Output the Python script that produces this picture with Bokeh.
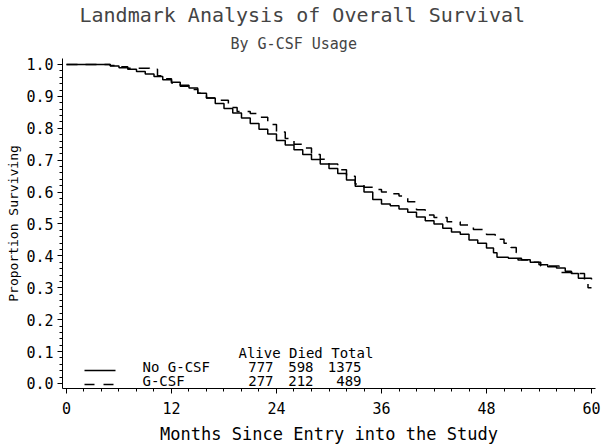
from bokeh.plotting import figure
from bokeh.models import Range1d, Label, Title, SingleIntervalTicker, NumeralTickFormatter
from bokeh.embed import file_html
from bokeh.resources import INLINE

# ---- data ----
t_no = [0, 5.0, 6.0, 7.0, 8.0, 9.0, 10.0, 11.0, 12.0, 13.0, 14.0, 15.0, 16.0, 17.0, 18.0,
        19.0, 20.0, 21.0, 22.0, 23.0, 24.0, 25.0, 26.0, 27.0, 28.0, 29.0, 30.0, 31.0, 32.0,
        33.0, 34.0, 35.0, 36.0, 37.0, 38.0, 39.0, 40.0, 41.0, 42.0, 43.0, 44.0, 45.0, 46.0,
        47.0, 48.0, 48.8, 49.2, 50.5, 52.0, 53.0, 54.0, 55.0, 56.0, 57.0, 57.7, 58.5, 60.0]
s_no = [1.0, 0.995, 0.99, 0.985, 0.978, 0.97, 0.962, 0.952, 0.944, 0.935, 0.926, 0.91, 0.895,
        0.878, 0.862, 0.848, 0.832, 0.815, 0.797, 0.782, 0.762, 0.748, 0.733, 0.718, 0.702, 0.688,
        0.674, 0.658, 0.638, 0.618, 0.6, 0.577, 0.563, 0.557, 0.547, 0.537, 0.522, 0.51, 0.5,
        0.487, 0.475, 0.468, 0.45, 0.44, 0.425, 0.41, 0.396, 0.393, 0.388, 0.38, 0.372, 0.366,
        0.362, 0.352, 0.345, 0.33, 0.326]

t_g = [0, 5.0, 6.0, 7.0, 9.5, 10.4, 11.0, 12.0, 13.0, 14.0, 15.0, 16.0, 17.0, 18.5, 19.5,
       21.0, 22.0, 23.0, 24.0, 25.0, 26.0, 27.0, 28.0, 29.0, 30.0, 31.0, 32.0, 33.0, 34.0,
       35.0, 36.0, 37.0, 38.0, 39.0, 40.0, 41.0, 42.0, 43.5, 45.0, 46.5, 48.0, 49.0, 50.0,
       50.8, 51.4, 51.6, 53.0, 54.2, 56.3, 58.5, 59.2, 59.6, 60.0]
s_g = [1.0, 0.997, 0.993, 0.988, 0.985, 0.965, 0.955, 0.942, 0.932, 0.922, 0.91, 0.895, 0.888,
       0.865, 0.853, 0.846, 0.835, 0.812, 0.788, 0.768, 0.75, 0.738, 0.718, 0.703, 0.688, 0.67,
       0.65, 0.625, 0.615, 0.608, 0.6, 0.595, 0.588, 0.57, 0.545, 0.528, 0.52, 0.507, 0.497,
       0.483, 0.467, 0.452, 0.44, 0.426, 0.41, 0.387, 0.38, 0.368, 0.348, 0.345, 0.318, 0.30, 0.30]

groups = ["No G-CSF", "G-CSF"]
alive = ["777", "277"]
died = ["598", "212"]
total = ["1375", "489"]
header = "Alive Died Total"

title_text = "Landmark Analysis of Overall Survival"
subtitle_text = "By G-CSF Usage"
x_label = "Months Since Entry into the Study"
y_label = "Proportion Surviving"

FONT = "DejaVu Sans Mono"

# ---- layout (figure pixels) ----
X0, X1 = -0.457, 60.457
Y0, Y1 = -0.0157, 1.0188
FRAME_L, FRAME_T, FRAME_W, FRAME_H = 62, 58, 533, 330


def dx(px):
    return X0 + (px - FRAME_L) / FRAME_W * (X1 - X0)


def dy(py):
    return Y1 - (py - FRAME_T) / FRAME_H * (Y1 - Y0)


p = figure(frame_width=FRAME_W, frame_height=FRAME_H,
           min_border_left=FRAME_L, min_border_right=6,
           min_border_top=FRAME_T, min_border_bottom=58,
           x_range=Range1d(X0, X1), y_range=Range1d(Y0, Y1),
           output_backend="svg", toolbar_location=None)
p.title.visible = False
p.outline_line_color = None
p.xgrid.visible = False
p.ygrid.visible = False
p.background_fill_color = "white"
p.border_fill_color = "white"

# titles (subtitle first so that it sits next to the frame)
p.add_layout(Title(text=subtitle_text, align="left", offset=168, text_font=FONT,
                   text_font_size="15px", text_font_style="normal", standoff=12), "above")
p.add_layout(Title(text=title_text, align="left", offset=17, text_font=FONT,
                   text_font_size="20px", text_font_style="normal", standoff=0), "above")

p.xaxis.ticker = SingleIntervalTicker(interval=12, num_minor_ticks=6)
p.yaxis.ticker = SingleIntervalTicker(interval=0.1, num_minor_ticks=5)
p.yaxis.formatter = NumeralTickFormatter(format="0.0")
for ax in (p.xaxis, p.yaxis):
    ax.axis_line_color = "black"
    ax.axis_line_width = 1
    ax.major_tick_line_color = "black"
    ax.minor_tick_line_color = "black"
    ax.major_tick_in = 0
    ax.minor_tick_in = 0
    ax.major_tick_out = 5
    ax.minor_tick_out = 3
    ax.major_label_text_font = FONT
    ax.major_label_text_font_size = "15px"
    ax.major_label_text_color = "black"
    ax.axis_label_text_font = FONT
    ax.axis_label_text_font_style = "normal"
    ax.axis_label_text_color = "black"
p.yaxis.major_label_standoff = 4
p.xaxis.major_label_standoff = 8
p.xaxis.axis_label = x_label
p.xaxis.axis_label_text_font_size = "17px"
p.xaxis.axis_label_standoff = 7
p.yaxis.axis_label = y_label
p.yaxis.axis_label_text_font_size = "13px"
p.yaxis.axis_label_standoff = 2

# curves
p.step(t_no, s_no, mode="after", line_color="black", line_width=1.5)
p.step(t_g, s_g, mode="after", line_color="black", line_width=1.5, line_dash="11 8")

# legend samples
p.line([dx(84), dx(115)], [dy(370), dy(370)], line_color="black", line_width=1.5)
p.line([dx(84), dx(115)], [dy(384), dy(384)], line_color="black", line_width=1.5, line_dash="10 9")


def lab(text, px, py, size, align="left"):
    p.add_layout(Label(x=dx(px), y=dy(py), text=text, text_font=FONT,
                       text_font_size=size, text_align=align, text_baseline="middle",
                       text_color="black"))


lab(header, 238, 352, "14px")
rows_y = [366, 380]
for i in range(2):
    lab(groups[i], 142, rows_y[i], "14px")
    lab(alive[i], 273, rows_y[i], "14px", align="right")
    lab(died[i], 313, rows_y[i], "14px", align="right")
    lab(total[i], 361, rows_y[i], "14px", align="right")

open("out.html", "w").write(file_html(p, INLINE))
